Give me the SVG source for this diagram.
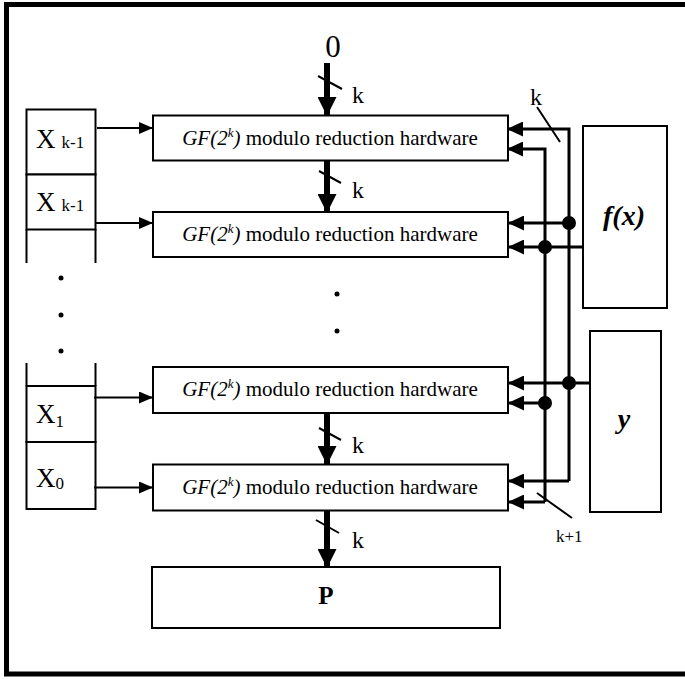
<svg xmlns="http://www.w3.org/2000/svg" width="685" height="679" viewBox="0 0 685 679">
<defs>
<style>
text{font-family:'Liberation Serif','Times New Roman','DejaVu Serif',serif;fill:#000}
.box{fill:#fff;stroke:#000;stroke-width:2}
.ln{stroke:#000;stroke-width:2;fill:none}
.bus{stroke:#000;stroke-width:3;fill:none}
.thick{stroke:#000;stroke-width:6;fill:none}
.sl{stroke:#000;stroke-width:2}
</style>
<marker id="ah" markerUnits="userSpaceOnUse" markerWidth="14" markerHeight="12" refX="13" refY="6" orient="auto"><path d="M0,0 L14,6 L0,12 Z" fill="#000"/></marker>
<marker id="ahr" markerUnits="userSpaceOnUse" markerWidth="16" markerHeight="15" refX="15" refY="7.5" orient="auto"><path d="M0,0 L16,7.5 L0,15 Z" fill="#000"/></marker>
<marker id="ahb" markerUnits="userSpaceOnUse" markerWidth="19" markerHeight="19" refX="18" refY="9.5" orient="auto"><path d="M0,0 L19,9.5 L0,19 Z" fill="#000"/></marker>
</defs>
<rect x="0" y="0" width="685" height="679" fill="#fff"/>
<rect x="6.5" y="4.5" width="700" height="669.5" fill="none" stroke="#000" stroke-width="5"/>

<g id="xcol" font-family="Liberation Serif, serif">
<rect class="box" x="26.5" y="109.5" width="69" height="65"/>
<rect class="box" x="26.5" y="174.5" width="69" height="55"/>
<path class="ln" d="M26.5,229 V263 M95.5,229 V263 M26.5,363 V386 M95.5,363 V386"/>
<rect class="box" x="26.5" y="386" width="69" height="56"/>
<rect class="box" x="26.5" y="442" width="69" height="67"/>
<text x="36" y="148" font-size="27">X<tspan font-size="17" dx="6">k-1</tspan></text>
<text x="36" y="211" font-size="27">X<tspan font-size="17" dx="6">k-1</tspan></text>
<text x="36" y="423" font-size="27">X<tspan font-size="17" dy="4">1</tspan></text>
<text x="36" y="487" font-size="27">X<tspan font-size="17" dy="2">0</tspan></text>
<circle cx="61" cy="278" r="2.5"/>
<circle cx="61" cy="315" r="2.5"/>
<circle cx="61" cy="351" r="2.5"/>
</g>

<g id="m1"><rect class="box" x="153" y="115.5" width="355" height="45"/>
<text x="330" y="145" font-size="21" text-anchor="middle"><tspan font-style="italic">GF(2</tspan><tspan font-style="italic" font-size="13" dy="-8">k</tspan><tspan dy="8" font-style="italic">)</tspan> modulo reduction hardware</text></g>
<g id="m2"><rect class="box" x="153" y="212" width="355" height="45"/>
<text x="330" y="241" font-size="21" text-anchor="middle"><tspan font-style="italic">GF(2</tspan><tspan font-style="italic" font-size="13" dy="-8">k</tspan><tspan dy="8" font-style="italic">)</tspan> modulo reduction hardware</text></g>
<g id="m3"><rect class="box" x="153" y="367" width="355" height="46"/>
<text x="330" y="396" font-size="21" text-anchor="middle"><tspan font-style="italic">GF(2</tspan><tspan font-style="italic" font-size="13" dy="-8">k</tspan><tspan dy="8" font-style="italic">)</tspan> modulo reduction hardware</text></g>
<g id="m4"><rect class="box" x="153" y="464.5" width="355" height="46"/>
<text x="330" y="494" font-size="21" text-anchor="middle"><tspan font-style="italic">GF(2</tspan><tspan font-style="italic" font-size="13" dy="-8">k</tspan><tspan dy="8" font-style="italic">)</tspan> modulo reduction hardware</text></g>

<g id="p"><rect class="box" x="152" y="567" width="348" height="61"/>
<text x="326" y="604" font-size="25" font-weight="bold" text-anchor="middle">P</text></g>

<g id="fx"><rect class="box" x="583" y="126" width="84" height="182"/>
<text x="624" y="225" font-size="28" font-weight="bold" font-style="italic" text-anchor="middle">f(x)</text></g>
<g id="y"><rect class="box" x="590" y="331" width="71" height="181"/>
<text x="624" y="428" font-size="28" font-weight="bold" font-style="italic" text-anchor="middle">y</text></g>

<g id="zero"><text x="333" y="57" font-size="31" text-anchor="middle">0</text></g>

<g id="mdots"><circle cx="337" cy="294" r="2.5"/><circle cx="337" cy="331" r="2.5"/></g>

<g id="connectors">
<path class="ln" d="M97,128 H152" marker-end="url(#ah)"/>
<path class="ln" d="M96,223 H152" marker-end="url(#ah)"/>
<path class="ln" d="M94,397.5 H152" marker-end="url(#ah)"/>
<path class="ln" d="M94,487.5 H152" marker-end="url(#ah)"/>

<path class="thick" d="M327,63 V115" marker-end="url(#ahb)"/>
<path class="thick" d="M327,161 V212" marker-end="url(#ahb)"/>
<path class="thick" d="M327,413 V464" marker-end="url(#ahb)"/>
<path class="thick" d="M327,511 V567" marker-end="url(#ahb)"/>
<path class="sl" d="M318,76 L342,89 M319,171 L341,183 M319,428 L341,440 M316,520 L339,533"/>
<text x="352" y="103" font-size="24">k</text>
<text x="352" y="198" font-size="24">k</text>
<text x="352" y="453" font-size="24">k</text>
<text x="352" y="548" font-size="24">k</text>

<path class="bus" d="M569,481 V129 H508" marker-end="url(#ahr)"/>
<path class="bus" d="M545,502 V149 H508" marker-end="url(#ahr)"/>
<path class="bus" d="M569,223 H509" marker-end="url(#ahr)"/>
<path class="bus" d="M583,247 H509" marker-end="url(#ahr)"/>
<path class="bus" d="M590,383 H509" marker-end="url(#ahr)"/>
<path class="bus" d="M545,403 H509" marker-end="url(#ahr)"/>
<path class="bus" d="M569,481 H509" marker-end="url(#ahr)"/>
<path class="bus" d="M545,502 H509" marker-end="url(#ahr)"/>
<circle cx="569" cy="223" r="7"/>
<circle cx="545" cy="247" r="7"/>
<circle cx="569" cy="383" r="7"/>
<circle cx="545" cy="403" r="7"/>
<path class="sl" d="M537,107 L560,142 M537,493 L572,518"/>
<text x="530" y="105" font-size="24">k</text>
<text x="556" y="542" font-size="17">k+1</text>
</g>
</svg>
